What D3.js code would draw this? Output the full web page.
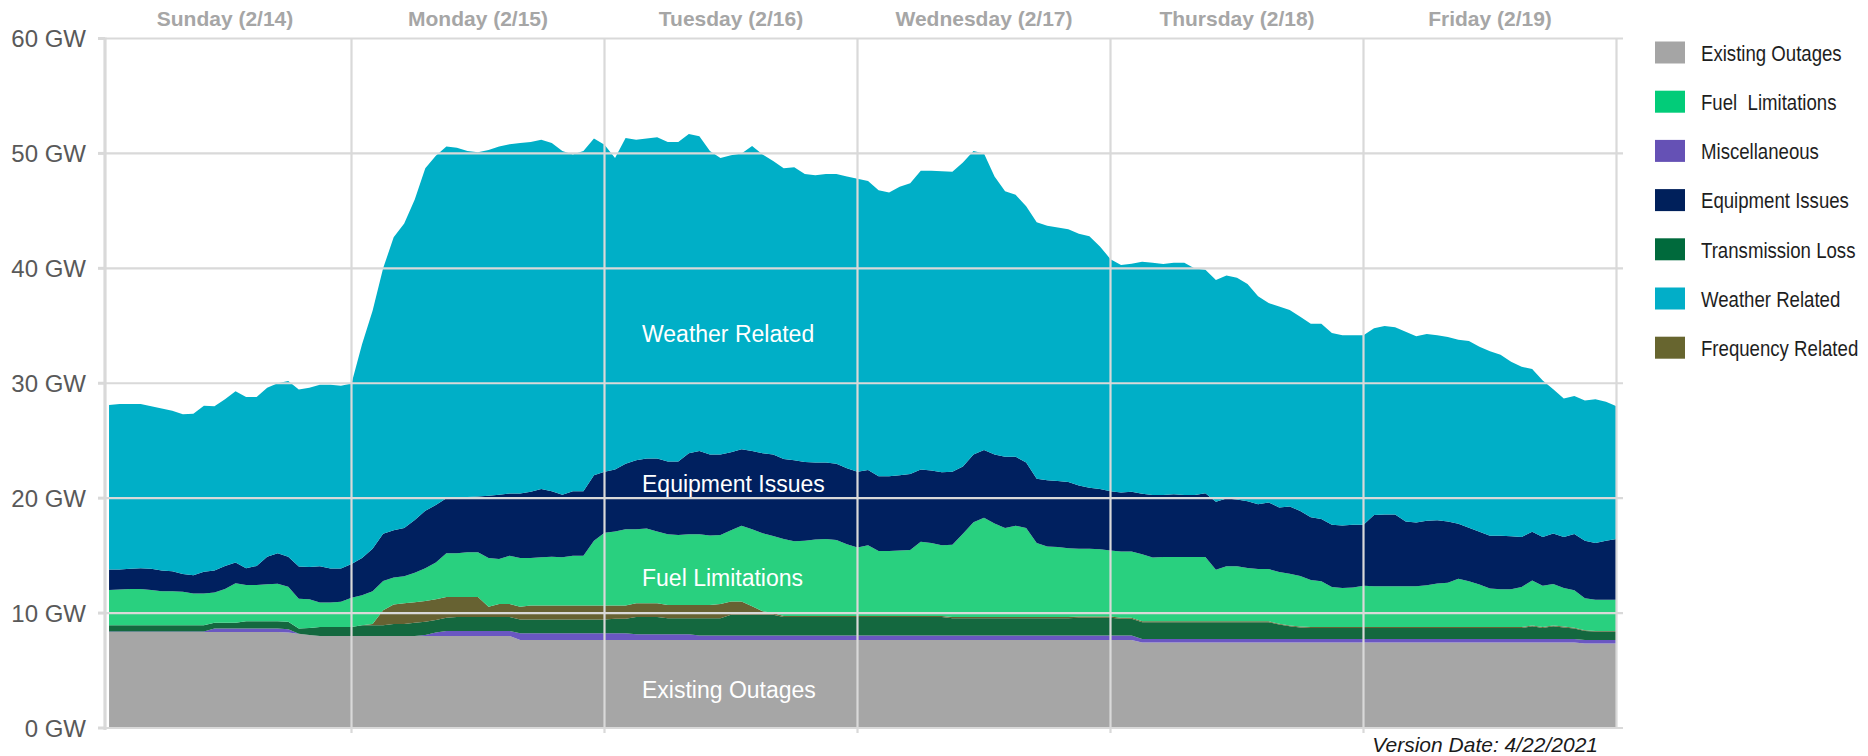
<!DOCTYPE html>
<html><head><meta charset="utf-8">
<script src="https://cdn.jsdelivr.net/npm/d3@7/dist/d3.min.js"></script>
<style>
html,body{margin:0;padding:0;background:#fff;}
svg{display:block;font-family:"Liberation Sans",Arial,Helvetica,sans-serif;}
</style></head><body>
<svg id="chart" width="1868" height="756"></svg>
<script>
// ---- data (GW, hourly, Sunday 01:00 .. Friday 24:00) ----
const hourIndex = [
  1,2,3,4,5,6,7,8,9,10,11,12,13,14,15,16,17,18,19,20,21,22,23,24,
  25,26,27,28,29,30,31,32,33,34,35,36,37,38,39,40,41,42,43,44,45,46,47,48,
  49,50,51,52,53,54,55,56,57,58,59,60,61,62,63,64,65,66,67,68,69,70,71,72,
  73,74,75,76,77,78,79,80,81,82,83,84,85,86,87,88,89,90,91,92,93,94,95,96,
  97,98,99,100,101,102,103,104,105,106,107,108,109,110,111,112,113,114,115,116,117,118,119,120,
  121,122,123,124,125,126,127,128,129,130,131,132,133,134,135,136,137,138,139,140,141,142,143,144];
const dayLabels = ["Sunday (2/14)","Monday (2/15)","Tuesday (2/16)","Wednesday (2/17)","Thursday (2/18)","Friday (2/19)"];
const dayStartHours = [0,24,48,72,96,120];
const yTicks = [0,10,20,30,40,50,60];

const existingOutages = [
  8.35,8.35,8.35,8.35,8.35,8.35,8.35,8.35,8.35,8.35,8.35,8.35,
  8.35,8.35,8.35,8.35,8.35,8.3,8.2,8.1,8.0,8.0,8.0,8.0,
  8.0,8.0,8.0,8.0,8.0,8.0,8.0,8.0,8.0,8.0,8.0,8.0,
  8.0,8.0,8.0,7.65,7.65,7.65,7.65,7.65,7.65,7.65,7.65,7.65,
  7.65,7.65,7.65,7.65,7.65,7.65,7.65,7.65,7.65,7.65,7.65,7.65,
  7.65,7.65,7.65,7.65,7.65,7.65,7.65,7.65,7.65,7.65,7.65,7.65,
  7.65,7.65,7.65,7.65,7.65,7.65,7.65,7.65,7.65,7.65,7.65,7.65,
  7.65,7.65,7.65,7.65,7.65,7.65,7.65,7.65,7.65,7.65,7.65,7.65,
  7.65,7.65,7.45,7.45,7.45,7.45,7.45,7.45,7.45,7.45,7.45,7.45,
  7.45,7.45,7.45,7.45,7.45,7.45,7.45,7.45,7.45,7.45,7.45,7.45,
  7.45,7.45,7.45,7.45,7.45,7.45,7.45,7.45,7.45,7.45,7.45,7.45,
  7.45,7.45,7.45,7.45,7.45,7.45,7.45,7.45,7.35,7.35,7.35,7.35];
const miscellaneous = [
  0.05,0.05,0.05,0.05,0.05,0.05,0.05,0.05,0.05,0.05,0.3,0.3,
  0.3,0.3,0.3,0.3,0.3,0.3,0,0,0,0,0,0,
  0,0,0,0,0,0,0.1,0.3,0.45,0.45,0.45,0.45,
  0.45,0.45,0.45,0.6,0.6,0.6,0.6,0.6,0.6,0.6,0.6,0.6,
  0.6,0.6,0.5,0.5,0.5,0.5,0.5,0.5,0.4,0.4,0.4,0.4,
  0.4,0.4,0.4,0.4,0.4,0.4,0.4,0.4,0.4,0.4,0.4,0.4,
  0.4,0.4,0.4,0.4,0.4,0.4,0.4,0.4,0.4,0.4,0.4,0.4,
  0.4,0.4,0.4,0.4,0.4,0.4,0.4,0.4,0.4,0.4,0.4,0.4,
  0.4,0.4,0.3,0.3,0.3,0.3,0.3,0.3,0.3,0.3,0.3,0.3,
  0.3,0.3,0.3,0.3,0.3,0.3,0.3,0.3,0.3,0.3,0.3,0.3,
  0.3,0.3,0.3,0.3,0.3,0.3,0.3,0.3,0.3,0.3,0.3,0.3,
  0.3,0.3,0.3,0.3,0.3,0.3,0.3,0.3,0.3,0.3,0.3,0.3];
const transmissionLoss = [
  0.55,0.55,0.55,0.55,0.55,0.55,0.55,0.55,0.55,0.55,0.5,0.5,
  0.5,0.65,0.65,0.65,0.65,0.65,0.45,0.6,0.78,0.78,0.78,0.78,
  0.95,0.95,0.95,1.05,1.05,1.15,1.15,1.1,1.15,1.2,1.2,1.2,
  1.2,1.2,1.2,1.2,1.2,1.2,1.2,1.2,1.2,1.2,1.2,1.2,
  1.25,1.25,1.5,1.5,1.5,1.4,1.4,1.4,1.5,1.5,1.5,1.8,
  1.8,1.8,1.8,1.8,1.6,1.6,1.6,1.6,1.6,1.6,1.6,1.6,
  1.6,1.6,1.6,1.6,1.6,1.6,1.6,1.6,1.5,1.5,1.5,1.5,
  1.5,1.5,1.5,1.5,1.5,1.5,1.5,1.5,1.55,1.55,1.55,1.55,
  1.45,1.45,1.45,1.45,1.45,1.45,1.45,1.45,1.45,1.45,1.45,1.45,
  1.45,1.45,1.45,1.25,1.1,1.0,0.95,0.95,0.95,0.95,0.95,0.95,
  0.95,0.95,0.95,0.95,0.95,0.95,0.95,0.95,0.95,0.95,0.95,0.95,
  0.95,0.95,0.95,1.1,0.95,1.1,1.0,0.9,0.8,0.75,0.75,0.75];
const frequencyRelated = [
  0,0,0,0,0,0,0,0,0,0,0,0,
  0,0,0,0,0,0,0,0,0,0,0,0,
  0,0.1,1.3,1.7,1.8,1.8,1.8,1.8,1.8,1.75,1.75,1.75,
  0.9,1.15,1.15,1.1,1.2,1.2,1.2,1.2,1.2,1.2,1.2,1.2,
  1.15,1.15,1.2,1.2,1.2,1.15,1.15,1.15,1.15,1.15,1.25,1.15,
  1.15,0.75,0.3,0.15,0.1,0.1,0.1,0.1,0.1,0.1,0.1,0.1,
  0.1,0.1,0.1,0.1,0.1,0.1,0.1,0.1,0.1,0.1,0.1,0.1,
  0.1,0.1,0.1,0.1,0.1,0.1,0.1,0.1,0.1,0.1,0.1,0.1,
  0.1,0.1,0.08,0.08,0.08,0.08,0.08,0.08,0.08,0.08,0.08,0.08,
  0.08,0.08,0.08,0.08,0.08,0.08,0.08,0.08,0.08,0.08,0.08,0.08,
  0.08,0.08,0.08,0.08,0.08,0.08,0.08,0.08,0.08,0.08,0.08,0.08,
  0.08,0.08,0.08,0.08,0.08,0.08,0.08,0.08,0.05,0.05,0.05,0.05];
const fuelLimitations = [
  3.05,3.1,3.15,3.15,3.05,2.95,2.95,2.9,2.75,2.75,2.65,2.95,
  3.45,3.15,3.15,3.2,3.25,3.05,2.6,2.5,2.15,2.15,2.2,2.55,
  2.6,2.85,2.55,2.35,2.35,2.55,2.85,3.2,3.8,3.8,3.9,3.9,
  4.25,3.9,4.2,4.25,4.15,4.2,4.25,4.2,4.35,4.35,5.65,6.35,
  6.45,6.65,6.45,6.5,6.25,6.15,6.1,6.15,6.15,6.05,6.0,6.2,
  6.6,6.7,6.8,6.7,6.7,6.5,6.55,6.65,6.7,6.6,6.25,5.95,
  6.15,5.65,5.65,5.7,5.75,6.45,6.35,6.15,6.3,7.25,8.25,8.65,
  8.15,7.75,7.95,7.75,6.45,6.15,6.1,6.0,5.9,5.9,5.85,5.75,
  5.75,5.75,5.85,5.55,5.6,5.6,5.6,5.6,5.6,4.5,4.8,4.8,
  4.65,4.55,4.55,4.5,4.5,4.4,4.1,4.0,3.5,3.4,3.45,3.6,
  3.55,3.55,3.55,3.55,3.55,3.65,3.8,3.85,4.2,4.0,3.7,3.35,
  3.3,3.3,3.5,3.9,3.6,3.6,3.35,3.25,2.8,2.7,2.7,2.7];
const equipmentIssues = [
  1.8,1.75,1.75,1.8,1.85,1.8,1.75,1.55,1.6,1.9,1.9,2.0,
  1.8,1.45,1.65,2.4,2.65,2.6,2.8,2.8,3.15,2.95,2.9,2.95,
  3.25,3.7,4.1,4.1,4.2,4.6,5.0,5.0,4.8,4.85,4.8,4.85,
  5.4,5.6,5.4,5.6,5.75,5.95,5.7,5.45,5.6,5.6,5.7,5.3,
  5.4,5.7,6.0,6.1,6.35,6.35,6.4,7.05,7.25,7.05,7.0,6.8,
  6.65,6.8,6.95,7.1,6.95,7.05,6.85,6.7,6.65,6.65,6.6,6.6,
  6.55,6.5,6.5,6.55,6.6,6.3,6.3,6.35,6.35,5.85,5.9,5.9,
  6.0,6.2,6.0,5.7,5.6,5.75,5.75,5.75,5.5,5.3,5.25,5.15,
  5.15,5.2,5.25,5.45,5.4,5.45,5.4,5.4,5.55,5.9,5.9,5.8,
  5.8,5.65,5.8,5.6,5.85,5.65,5.45,5.4,5.4,5.45,5.45,5.3,
  6.2,6.25,6.25,5.65,5.55,5.6,5.5,5.35,4.8,4.65,4.6,4.6,
  4.65,4.6,4.35,4.25,4.25,4.4,4.45,4.9,5.0,4.95,5.15,5.3];
const weatherRelated = [
  14.3,14.4,14.35,14.3,14.15,14.1,13.95,13.9,14.05,14.45,14.3,14.5,
  14.9,14.9,14.7,14.7,14.8,15.3,15.4,15.6,15.8,16.0,15.9,15.7,
  18.6,20.7,23.1,25.5,26.5,27.9,29.8,30.4,30.6,30.45,30.1,29.95,
  30.1,30.3,30.4,30.5,30.45,30.4,30.3,29.9,29.3,29.6,29.3,28.45,
  27.1,28.35,27.9,27.85,27.95,27.8,27.8,27.8,27.4,26.4,25.8,25.85,
  25.75,26.55,26.0,25.55,25.3,25.5,25.05,25.0,25.1,25.2,25.4,25.5,
  25.15,24.9,24.7,25.1,25.3,26.0,26.1,26.2,26.1,26.45,26.4,25.8,
  24.2,23.1,22.8,22.3,22.3,22.15,22.05,22.0,21.9,21.9,21.1,20.2,
  19.8,19.85,20.2,20.2,20.1,20.15,20.2,19.7,19.45,19.3,19.4,19.3,
  18.9,18.1,17.35,17.5,17.1,16.9,16.85,17.0,16.7,16.55,16.5,16.5,
  16.25,16.4,16.3,16.5,16.2,16.25,16.1,16.05,16.0,16.25,16.1,16.05,
  15.75,15.2,14.8,14.15,13.6,12.55,12.05,12.0,12.2,12.5,12.1,11.55];

// stack order bottom -> top
const seriesKeys   = ["Existing Outages","Miscellaneous","Transmission Loss","Frequency Related","Fuel Limitations","Equipment Issues","Weather Related"];
const seriesValues = [existingOutages, miscellaneous, transmissionLoss, frequencyRelated, fuelLimitations, equipmentIssues, weatherRelated];
const areaColors   = ["#a6a6a6","#6a57c2","#14683f","#676232","#29d07f","#00205f","#00afc7"];

// legend order
const legendLabels = ["Existing Outages","Fuel  Limitations","Miscellaneous","Equipment Issues","Transmission Loss","Weather Related","Frequency Related"];
const legendColors = ["#a5a5a5","#02cc79","#6551b5","#00205b","#006a3c","#02aec8","#67652f"];

// in-chart labels
const areaLabels = ["Weather Related","Equipment Issues","Fuel Limitations","Existing Outages"];

// ---- build ----
const table = hourIndex.map((h,i) => {
  const row = {hour: h};
  seriesKeys.forEach((k,j) => row[k] = seriesValues[j][i]);
  return row;
});

const svg = d3.select("#chart");
const x = d3.scaleLinear().domain([0,144]).range([98.5,1616.5]);
const y = d3.scaleLinear().domain([0,60]).range([728,38.5]);

const stack = d3.stack().keys(seriesKeys);
const layers = stack(table);
const area = d3.area()
  .x(d => x(d.data.hour))
  .y0(d => y(d[0]))
  .y1(d => y(d[1]))
  .curve(d3.curveLinear);

svg.append("g").selectAll("path").data(layers).join("path")
  .attr("d", area)
  .attr("fill", (d,i) => areaColors[i]);

// grid
const grid = svg.append("g").attr("stroke","#d9d9d9").attr("fill","none");
grid.selectAll("line.h").data(yTicks).join("line")
  .attr("x1", 105).attr("x2", 1623)
  .attr("y1", d => y(d)).attr("y2", d => y(d))
  .attr("stroke-width", 2.2);
grid.selectAll("line.v").data(dayStartHours.slice(1).concat([144])).join("line")
  .attr("x1", d => x(d)).attr("x2", d => x(d))
  .attr("y1", y(60)).attr("y2", d => d === 144 ? y(0) : y(0) + 5)
  .attr("stroke-width", 2.2);
// y axis line + tick stubs
grid.append("line").attr("x1",105).attr("x2",105).attr("y1",y(60)-1).attr("y2",y(0)+2).attr("stroke-width",3.2);
grid.selectAll("line.t").data(yTicks).join("line")
  .attr("x1", 98).attr("x2", 105)
  .attr("y1", d => y(d)).attr("y2", d => y(d))
  .attr("stroke-width", 3);

// y tick labels
svg.append("g").selectAll("text").data(yTicks).join("text")
  .attr("x", 86).attr("y", d => y(d)).attr("dy","0.36em")
  .attr("text-anchor","end")
  .attr("font-size", 24).attr("fill","#595959")
  .text(d => d + " GW");

// day labels
svg.append("g").selectAll("text").data(dayLabels).join("text")
  .attr("x", (d,i) => x(dayStartHours[i] + 12))
  .attr("y", 25.5)
  .attr("text-anchor","middle")
  .attr("font-size", 21).attr("font-weight","bold").attr("fill","#a6a6a6")
  .text(d => d);

// area labels
const areaLabelY = [342, 492, 586, 698];
svg.append("g").selectAll("text").data(areaLabels).join("text")
  .attr("x", 642).attr("y", (d,i) => areaLabelY[i])
  .attr("font-size", 23).attr("fill","#ffffff")
  .text(d => d);

// legend
const lg = svg.append("g");
const rows = lg.selectAll("g").data(legendLabels).join("g")
  .attr("transform", (d,i) => `translate(1655,${52.5 + i*49.2})`);
rows.append("rect").attr("x",0).attr("y",-11).attr("width",30).attr("height",22)
  .attr("fill", (d,i) => legendColors[i]);
rows.append("text")
  .attr("transform","translate(46,0) scale(0.81,1)")
  .attr("dy","0.36em")
  .attr("font-size", 23).attr("fill","#1e1e1e")
  .style("white-space","pre")
  .text(d => d);

// version date
svg.append("text").attr("x",1598).attr("y",752).attr("text-anchor","end")
  .attr("font-size",21).attr("font-style","italic").attr("fill","#1a1a1a")
  .text("Version Date: 4/22/2021");
</script>
</body></html>
